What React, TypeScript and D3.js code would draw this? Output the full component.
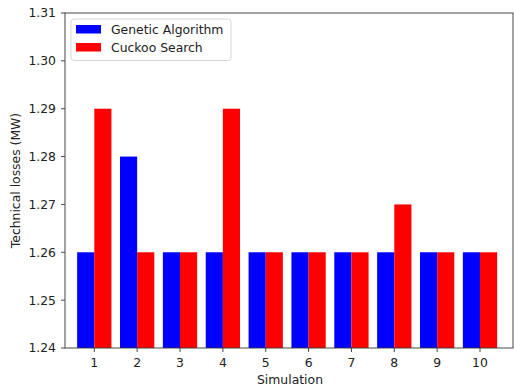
import React from 'react';
import * as d3 from 'd3';

const simulations = [1, 2, 3, 4, 5, 6, 7, 8, 9, 10];
const geneticAlgorithm = [1.26, 1.28, 1.26, 1.26, 1.26, 1.26, 1.26, 1.26, 1.26, 1.26];
const cuckooSearch = [1.29, 1.26, 1.26, 1.29, 1.26, 1.26, 1.26, 1.27, 1.26, 1.26];
const yTicks = [1.24, 1.25, 1.26, 1.27, 1.28, 1.29, 1.30, 1.31];

const W = 514;
const H = 388;
const left = 65, right = 513, top = 13, bottom = 348;
const font = 'DejaVu Sans, sans-serif';
const fs = 12.4;

const App = () => {
  // tick 1 sits at ~94.3px, tick 10 at ~480px
  const x = d3.scaleLinear().domain([1, 10]).range([94.3, 480]);
  const y = d3.scaleLinear().domain([1.24, 1.31]).range([bottom, top]);
  const barW = x(1.4) - x(1);

  return (
    <svg width={W} height={H} style={{ position: 'absolute', left: 0, top: 0 }} fontFamily={font}>
      <rect width={W} height={H} fill="white" />
      {simulations.map((s, i) => (
        <g key={s}>
          <rect x={x(s) - barW} y={y(geneticAlgorithm[i])} width={barW} height={bottom - y(geneticAlgorithm[i])} fill="blue" />
          <rect x={x(s)} y={y(cuckooSearch[i])} width={barW} height={bottom - y(cuckooSearch[i])} fill="red" />
        </g>
      ))}
      {/* axes frame */}
      <rect x={left} y={top} width={right - left} height={bottom - top} fill="none" stroke="#333" strokeWidth={0.9} />
      {yTicks.map(t => (
        <g key={t}>
          <line x1={left - 4} x2={left} y1={y(t)} y2={y(t)} stroke="#333" strokeWidth={0.9} />
          <text x={left - 9} y={y(t)} dy="0.36em" textAnchor="end" fontSize={fs} fill="#222">{t.toFixed(2)}</text>
        </g>
      ))}
      {simulations.map(s => (
        <g key={s}>
          <line x1={x(s)} x2={x(s)} y1={bottom} y2={bottom + 4} stroke="#333" strokeWidth={0.9} />
          <text x={x(s)} y={bottom + 19} textAnchor="middle" fontSize={fs} fill="#222">{s}</text>
        </g>
      ))}
      <text x={290} y={384} textAnchor="middle" fontSize={fs} fill="#222">Simulation</text>
      <text transform={`translate(20,${(top + bottom) / 2}) rotate(-90)`} textAnchor="middle" fontSize={fs} fill="#222">Technical losses (MW)</text>
      {/* legend */}
      <rect x={71} y={19} width={160} height={41.5} rx={3} fill="white" fillOpacity={0.8} stroke="#ccc" strokeWidth={0.8} />
      <rect x={76} y={25} width={25} height={8.5} fill="blue" />
      <text x={111} y={29.5} dy="0.36em" fontSize={fs} fill="#222">Genetic Algorithm</text>
      <rect x={76} y={43} width={25} height={8.5} fill="red" />
      <text x={111} y={47.5} dy="0.36em" fontSize={fs} fill="#222">Cuckoo Search</text>
    </svg>
  );
};

export default App;
